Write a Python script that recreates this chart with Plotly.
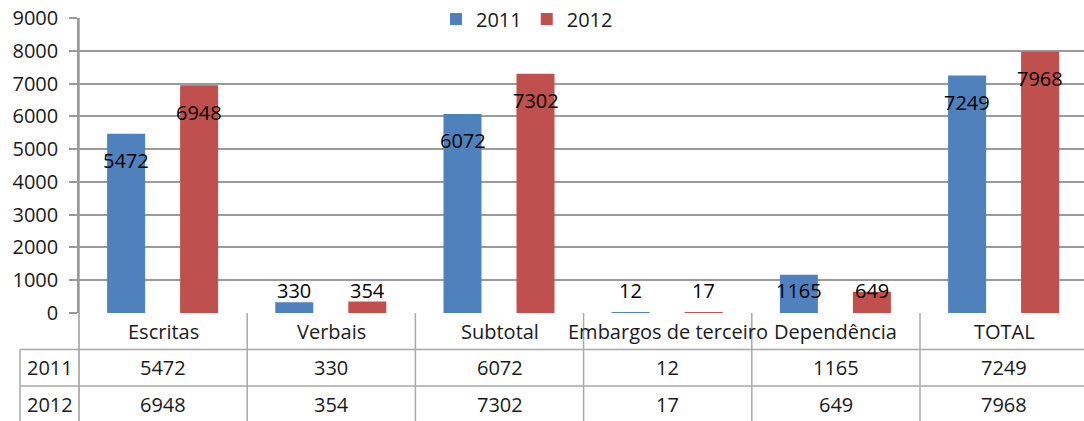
import plotly.graph_objects as go

categories = ["Escritas", "Verbais", "Subtotal", "Embargos de terceiro", "Dependência", "TOTAL"]
series_names = ["2011", "2012"]
values_2011 = [5472, 330, 6072, 12, 1165, 7249]
values_2012 = [6948, 354, 7302, 17, 649, 7968]
y_ticks = [0, 1000, 2000, 3000, 4000, 5000, 6000, 7000, 8000, 9000]

BLUE = "#4F81BD"
RED = "#C0504D"
GRID = "#9a9a9a"
TLINE = "#a8a8a8"
FONT = "Open Sans"
FS = 20
TXT = "#1a1a1a"

W, H = 1084, 421
ML, MT, MB = 79, 18, 108
plot_h = H - MT - MB
BAR_W = 0.226
OFFS = [-0.333, 0.101]
LABEL_SHIFT = -27
LABEL_FLOOR = 1525  # Excel keeps inside-end labels above the axis

fig = go.Figure()
series = [values_2011, values_2012]
colors = [BLUE, RED]
for name, vals, col, off in zip(series_names, series, colors, OFFS):
    fig.add_trace(go.Bar(
        name=name, x=categories, y=vals, marker=dict(color=col, line=dict(width=0)),
        width=BAR_W, offset=off, hoverinfo="x+y+name",
    ))

annotations = []
# data labels
for vals, off in zip(series, OFFS):
    for i, v in enumerate(vals):
        annotations.append(dict(
            x=i + off + BAR_W / 2, y=max(v, LABEL_FLOOR), xref="x", yref="y",
            text=str(v), showarrow=False, yshift=LABEL_SHIFT, yanchor="middle",
            xanchor="center", font=dict(family=FONT, size=FS, color="#000"),
        ))

def py(pix):
    return (H - MB - pix) / plot_h

row_top = H - MB
row_h = 36.5
rows_y = [row_top + row_h * k for k in range(4)]
left_x = (20 - ML) / (W - ML)

# header row: categories
for i, c in enumerate(categories):
    annotations.append(dict(x=i, y=py(row_top + row_h / 2), xref="x", yref="paper",
                            text=c, showarrow=False, yanchor="middle", xanchor="center",
                            font=dict(family=FONT, size=FS, color=TXT)))
# data rows
for r, (name, vals) in enumerate(zip(series_names, series)):
    yc = py(rows_y[r + 1] + row_h / 2)
    annotations.append(dict(x=left_x / 2, y=yc, xref="paper", yref="paper",
                            text=name, showarrow=False, yanchor="middle", xanchor="center",
                            font=dict(family=FONT, size=FS, color=TXT)))
    for i, v in enumerate(vals):
        annotations.append(dict(x=i, y=yc, xref="x", yref="paper", text=str(v),
                                showarrow=False, yanchor="middle", xanchor="center",
                                font=dict(family=FONT, size=FS, color=TXT)))

shapes = []
bottom = py(rows_y[3])
# y-axis line continuing through the table
shapes.append(dict(type="line", xref="paper", yref="paper", x0=0, x1=0, y0=bottom, y1=1,
                   line=dict(color=GRID, width=1.5)))
# column boundaries in table
for i in range(len(categories) - 1):
    shapes.append(dict(type="line", xref="x", yref="paper", x0=i + 0.5, x1=i + 0.5,
                       y0=bottom, y1=0, line=dict(color=TLINE, width=1.5)))
# left column border
shapes.append(dict(type="line", xref="paper", yref="paper", x0=left_x, x1=left_x,
                   y0=bottom, y1=py(rows_y[1]), line=dict(color=TLINE, width=1.5)))
# horizontal row lines
for k in (1, 2):
    shapes.append(dict(type="line", xref="paper", yref="paper", x0=left_x, x1=1,
                       y0=py(rows_y[k]), y1=py(rows_y[k]), line=dict(color=TLINE, width=1.5)))

fig.update_layout(
    width=W, height=H,
    margin=dict(l=ML, r=0, t=MT, b=MB, pad=0, autoexpand=False),
    paper_bgcolor="white", plot_bgcolor="white",
    barmode="overlay",
    font=dict(family=FONT, size=FS, color=TXT),
    xaxis=dict(type="category", range=[-0.5, 5.475], showticklabels=False,
               showgrid=False, zeroline=False, showline=False, ticks="", automargin=False),
    yaxis=dict(range=[0, 9000], tickvals=y_ticks, ticktext=[str(t) for t in y_ticks],
               showgrid=True, gridcolor=GRID, gridwidth=1.5, zeroline=False,
               showline=True, linecolor=GRID, linewidth=1.5,
               ticks="outside", ticklen=8, tickcolor=GRID, tickwidth=1.5,
               ticklabelstandoff=7, automargin=False,
               tickfont=dict(family=FONT, size=FS, color=TXT)),
    legend=dict(orientation="h", xref="container", yref="container",
                x=527 / W, xanchor="center", y=1 - 19 / H, yanchor="middle",
                bgcolor="rgba(0,0,0,0)", font=dict(family=FONT, size=FS, color=TXT),
                itemwidth=30, tracegroupgap=0),
    annotations=annotations,
    shapes=shapes,
    showlegend=True,
)

fig.write_html("out.html", config={"displayModeBar": False},
               post_script="document.body.style.margin='0';document.body.style.overflow='hidden';")
